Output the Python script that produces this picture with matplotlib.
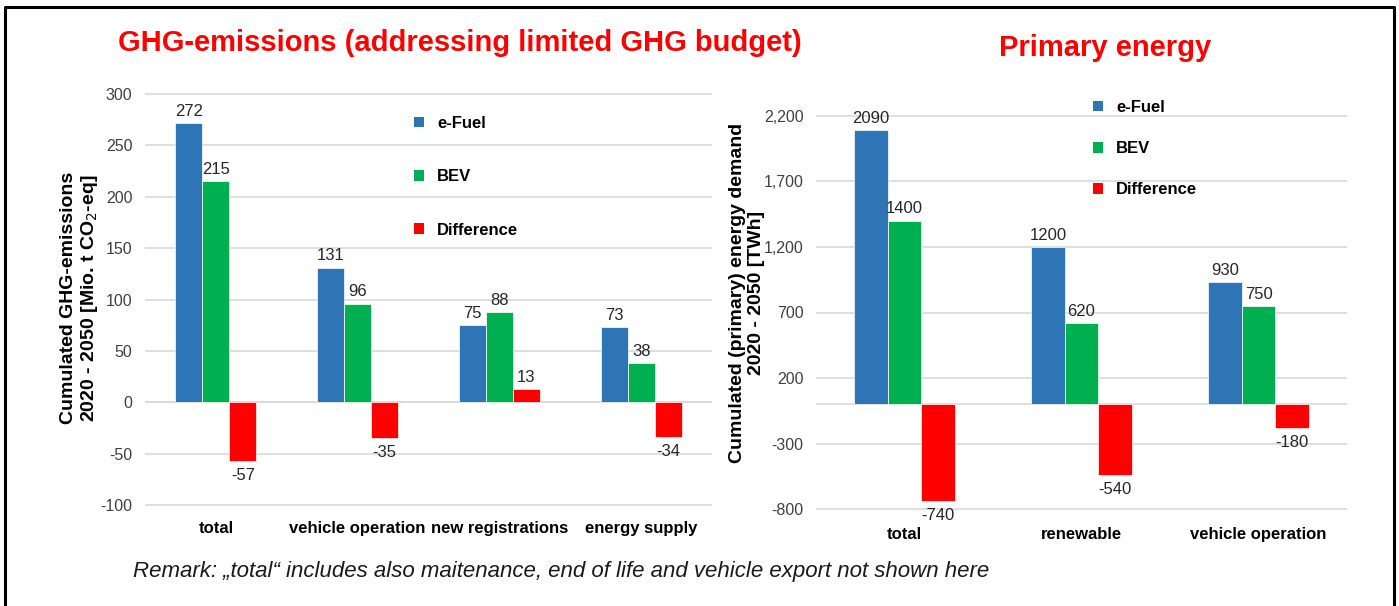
import numpy as np
import matplotlib.pyplot as plt
from matplotlib.patches import Patch
from matplotlib.lines import Line2D
from matplotlib.ticker import FuncFormatter

plt.rcParams['font.family'] = ['Liberation Sans', 'DejaVu Sans']

# GHG-emissions chart
ghg_cats = ['total', 'vehicle operation', 'new registrations', 'energy supply']
ghg_efuel = [272, 131, 75, 73]
ghg_bev = [215, 96, 88, 38]
ghg_diff = [-57, -35, 13, -34]

# Primary energy chart
pe_cats = ['total', 'renewable', 'vehicle operation']
pe_efuel = [2090, 1200, 930]
pe_bev = [1400, 620, 750]
pe_diff = [-740, -540, -180]

series_names = ['e-Fuel', 'BEV', 'Difference']
colors = ['#2E75B6', '#00B050', '#FF0000']

W, H = 1399, 606
fig = plt.figure(figsize=(W / 100, H / 100), dpi=100)


def px_axes(x0, y0, x1, y1):
    # pixel box (top-left origin) -> figure axes
    return fig.add_axes([x0 / W, 1 - y1 / H, (x1 - x0) / W, (y1 - y0) / H])


def draw_bars(ax, cats, data, bw, ylim, ticks, fmt, lab_pad):
    x = np.arange(len(cats))
    for i, vals in enumerate(data):
        pos = x + (i - 1) * bw
        ax.bar(pos, vals, bw, color=colors[i], edgecolor='white', linewidth=0.5, zorder=3)
        for p, v in zip(pos, vals):
            if v >= 0:
                ax.annotate(str(v), (p, v), xytext=(0, 3), textcoords='offset points',
                            ha='center', va='bottom', fontsize=12, color='#262626')
            else:
                ax.annotate(str(v), (p, v), xytext=(0, -5), textcoords='offset points',
                            ha='center', va='top', fontsize=12, color='#262626')
    ax.set_xlim(-0.5, len(cats) - 0.5)
    ax.set_ylim(*ylim)
    ax.set_yticks(ticks)
    ax.yaxis.set_major_formatter(FuncFormatter(fmt))
    ax.set_xticks(x)
    ax.set_xticklabels(cats, fontsize=12, fontweight='bold')
    ax.tick_params(axis='both', length=0)
    ax.tick_params(axis='x', pad=lab_pad)
    ax.tick_params(axis='y', labelsize=11.5, labelcolor='#404040', pad=9)
    ax.grid(axis='y', color='#D9D9D9', linewidth=1.2, zorder=0)
    ax.axhline(0, color='#D9D9D9', linewidth=1.2, zorder=1)
    for s in ax.spines.values():
        s.set_visible(False)


ax1 = px_axes(145, 93, 712, 506)
draw_bars(ax1, ghg_cats, [ghg_efuel, ghg_bev, ghg_diff], 0.19,
          (-101, 301), np.arange(-100, 301, 50), lambda v, p: f'{v:.0f}', 11)

ax2 = px_axes(816, 115, 1347, 510)
draw_bars(ax2, pe_cats, [pe_efuel, pe_bev, pe_diff], 0.19,
          (-805, 2205), np.arange(-800, 2201, 500), lambda v, p: f'{v:,.0f}', 12)

handles = [Patch(facecolor=c, edgecolor='none') for c in colors]
fig.legend(handles, series_names, loc='upper left', bbox_to_anchor=(414 / W, 1 - 116 / H),
           frameon=False, prop={'size': 12, 'weight': 'bold'}, handlelength=0.6,
           handleheight=0.6, handletextpad=0.8, labelspacing=2.3, borderpad=0, borderaxespad=0)
fig.legend(handles, series_names, loc='upper left', bbox_to_anchor=(1093 / W, 1 - 100 / H),
           frameon=False, prop={'size': 12, 'weight': 'bold'}, handlelength=0.6,
           handleheight=0.6, handletextpad=0.8, labelspacing=1.57, borderpad=0, borderaxespad=0)

fig.text(80 / W, 1 - 298 / H, 'Cumulated GHG-emissions\n2020 - 2050 [Mio. t CO$_2$-eq]',
         rotation=90, ha='center', va='center', fontsize=14, fontweight='bold',
         multialignment='center', linespacing=1.1)
fig.text(747 / W, 1 - 293 / H, 'Cumulated (primary) energy demand\n2020 - 2050 [TWh]',
         rotation=90, ha='center', va='center', fontsize=14, fontweight='bold',
         multialignment='center', linespacing=1.1)

fig.text(460 / W, 1 - 43 / H, 'GHG-emissions (addressing limited GHG budget)',
         ha='center', va='center', fontsize=21, fontweight='bold', color='#FF0000')
fig.text(1105 / W, 1 - 48 / H, 'Primary energy',
         ha='center', va='center', fontsize=21, fontweight='bold', color='#FF0000')

fig.text(133 / W, 1 - 571 / H,
         'Remark: \u201etotal\u201c includes also maitenance, end of life and vehicle export not shown here',
         ha='left', va='center', fontsize=16, style='italic', color='#1a1a1a')

# frame around the slide (left, top, right)
fig.add_artist(Line2D([5 / W, 5 / W, 1394 / W, 1394 / W], [0, 1 - 7 / H, 1 - 7 / H, 0],
                      transform=fig.transFigure, color='black', linewidth=2.2))

fig.savefig('out.png', dpi=100)
